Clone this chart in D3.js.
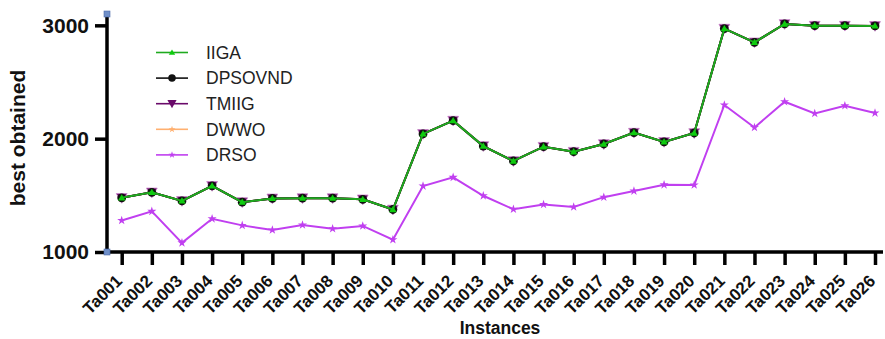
<!DOCTYPE html>
<html>
<head>
<meta charset="utf-8">
<script src="https://cdn.jsdelivr.net/npm/d3@7/dist/d3.min.js"></script>
<style>
  html, body { margin: 0; padding: 0; background: #fff; }
  svg { display: block; font-family: "Liberation Sans", Arial, sans-serif; }
</style>
</head>
<body>
<svg id="chart" width="885" height="339"></svg>
<script>
// Instances on the x axis
const instances = ["Ta001","Ta002","Ta003","Ta004","Ta005","Ta006","Ta007","Ta008","Ta009","Ta010",
                   "Ta011","Ta012","Ta013","Ta014","Ta015","Ta016","Ta017","Ta018","Ta019","Ta020",
                   "Ta021","Ta022","Ta023","Ta024","Ta025","Ta026"];

// Best obtained values per algorithm
const iiga    = [1478,1526,1451,1584,1440,1473,1475,1475,1465,1375,
                 2042,2159,1935,1803,1929,1885,1953,2053,1972,2050,
                 2971,2850,3012,2997,2997,2995];
const dpsovnd = iiga.slice();
const tmiig   = iiga.slice();
const dwwo    = iiga.slice();
const drso    = [1278,1359,1081,1293,1235,1195,1239,1206,1230,1108,
                 1582,1659,1496,1377,1419,1397,1484,1538,1593,1591,
                 2297,2099,2326,2223,2291,2226];

const yTicks = [1000, 2000, 3000];

const svg = d3.select("#chart");
const plotLeft = 107, plotRight = 883, plotTop = 14, plotBottom = 252;

const x = d3.scalePoint().domain(instances).range([121.7, 875]);
const y = d3.scaleLinear().domain([1000, 3100]).range([plotBottom, plotTop]);

const series = [
  { name: "DRSO",    values: drso,    line: "#c03ff0", marker: "star",     mcolor: "#c03ff0", size: 3.4 },
  { name: "DWWO",    values: dwwo,    line: "#ffb070", marker: "star",     mcolor: "#ffb070", size: 3.4 },
  { name: "TMIIG",   values: tmiig,   line: "#6a0a6a", marker: "tri-down", mcolor: "#6a0a6a", size: 5.4 },
  { name: "DPSOVND", values: dpsovnd, line: "#111111", marker: "circle",   mcolor: "#111111", size: 4.4 },
  { name: "IIGA",    values: iiga,    line: "#1faa1f", marker: "triangle", mcolor: "#0fcc0f", size: 3.6 }
];

function markerPath(type, s) {
  if (type === "circle") return d3.symbol(d3.symbolCircle, Math.PI * s * s)();
  if (type === "triangle") {
    return `M0,${-s}L${s * 1.05},${s * 0.75}L${-s * 1.05},${s * 0.75}Z`;
  }
  if (type === "tri-down") {
    return `M${-s},${-s * 0.8}L${s},${-s * 0.8}L0,${s}Z`;
  }
  // small star
  return d3.symbol(d3.symbolStar, s * s * 2.2)();
}

const lineGen = (vals) => d3.line()
  .x((d, i) => x(instances[i]))
  .y(d => y(d))(vals);

// Series: lines then markers, last one on top
series.forEach(s => {
  svg.append("path")
    .attr("d", lineGen(s.values))
    .attr("fill", "none")
    .attr("stroke", s.line)
    .attr("stroke-width", 2);
  svg.append("g").selectAll("path")
    .data(s.values)
    .join("path")
    .attr("transform", (d, i) => `translate(${x(instances[i])},${y(d)})`)
    .attr("d", markerPath(s.marker, s.size))
    .attr("fill", s.mcolor)
    .attr("stroke", s.marker === "tri-down" ? "#cc88cc" : "none")
    .attr("stroke-width", s.marker === "tri-down" ? 0.8 : 0);
});

// Y axis
const yAxis = d3.axisLeft(y).tickValues(yTicks).tickSize(12).tickPadding(6).tickFormat(d3.format("d"));
const gy = svg.append("g").attr("transform", `translate(${plotLeft},0)`).call(yAxis);
gy.select(".domain").attr("stroke", "#000").attr("stroke-width", 3.5)
  .attr("d", `M0,${plotTop}V${plotBottom + 1.5}`);
gy.selectAll(".tick line").attr("stroke", "#000").attr("stroke-width", 3.5);
gy.selectAll(".tick text")
  .attr("font-size", 21).attr("font-weight", "bold").attr("fill", "#111")
  .attr("font-family", "Liberation Sans, Arial, sans-serif");

// X axis
const xAxis = d3.axisBottom(x).tickSize(13).tickPadding(4);
const gx = svg.append("g").attr("transform", `translate(0,${plotBottom})`).call(xAxis);
gx.select(".domain").attr("stroke", "#000").attr("stroke-width", 3.5)
  .attr("d", `M${plotLeft - 1.5},0H${plotRight}`);
gx.selectAll(".tick line").attr("stroke", "#000").attr("stroke-width", 3.5);
gx.selectAll(".tick text")
  .attr("font-size", 17).attr("font-weight", "bold").attr("fill", "#111")
  .attr("font-family", "Liberation Sans, Arial, sans-serif")
  .attr("text-anchor", "end")
  .attr("dy", null)
  .attr("transform", "translate(1,30) rotate(-45)")
  .attr("y", 0).attr("x", 0);

// Axis end handles
[[plotLeft, plotTop], [plotLeft, plotBottom]].forEach(([cx, cy]) => {
  svg.append("rect")
    .attr("x", cx - 3).attr("y", cy - 3).attr("width", 6).attr("height", 6)
    .attr("fill", "#6f8fc8").attr("stroke", "#4a6aa8").attr("stroke-width", 0.6);
});

// Axis titles
svg.append("text")
  .attr("transform", "translate(25,138) rotate(-90)")
  .attr("text-anchor", "middle")
  .attr("font-size", 21).attr("font-weight", "bold").attr("fill", "#111")
  .text("best obtained");

svg.append("text")
  .attr("x", 500).attr("y", 334)
  .attr("text-anchor", "middle")
  .attr("font-size", 17.5).attr("font-weight", "bold").attr("fill", "#111")
  .text("Instances");

// Legend
const legendOrder = ["IIGA", "DPSOVND", "TMIIG", "DWWO", "DRSO"];
const legend = svg.append("g");
legendOrder.forEach((name, i) => {
  const s = series.find(d => d.name === name);
  const ly = 52.5 + i * 25.6;
  legend.append("line")
    .attr("x1", 156).attr("x2", 188).attr("y1", ly).attr("y2", ly)
    .attr("stroke", s.line).attr("stroke-width", 1.6);
  legend.append("path")
    .attr("transform", `translate(172,${ly})`)
    .attr("d", markerPath(s.marker, s.marker === "star" ? 2.6 : s.size * 0.85))
    .attr("fill", s.mcolor);
  legend.append("text")
    .attr("x", 206).attr("y", ly + 6.2)
    .attr("font-size", 17.5).attr("fill", "#222")
    .text(name);
});
</script>
</body>
</html>
